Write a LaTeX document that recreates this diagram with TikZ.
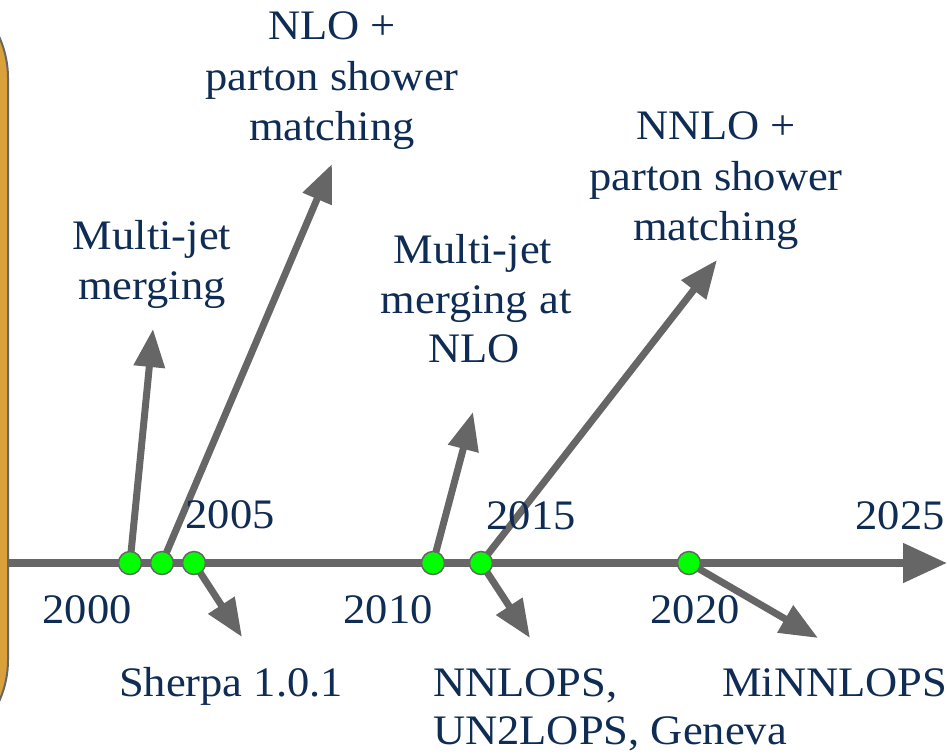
\documentclass[tikz,border=0pt]{standalone}
\usepackage{fontspec}
\setmainfont[FakeStretch=1.06]{Liberation Serif}
\usetikzlibrary{arrows.meta}
\definecolor{navy}{RGB}{14,44,84}
\definecolor{linegrey}{RGB}{102,102,102}
\definecolor{gold}{RGB}{218,160,58}
\definecolor{dotgreen}{RGB}{0,255,0}
\tikzset{
  lbl/.style={text=navy, font=\fontsize{42}{50}\selectfont, inner sep=0pt, anchor=base},
  lblleft/.style={lbl, anchor=base west},
  arrowline/.style={draw=linegrey, line width=7pt, -{Triangle[length=38pt,width=30pt]}},
  timeline/.style={draw=linegrey, line width=8pt, -{Triangle[length=44pt,width=38pt]}},
  dotnode/.style={circle, fill=dotgreen, draw=linegrey, line width=1.5pt, minimum size=23pt, inner sep=0pt},
  panelbox/.style={draw=linegrey, line width=2pt, fill=gold, rounded corners=100pt, minimum width=208pt, minimum height=782pt, inner sep=0pt}
}
\begin{document}
\begin{tikzpicture}[x=1pt,y=-1pt]
\clip (0,0) rectangle (947,753);
\node[panelbox] (panel) at (-96,369) {};
% dot positions
\coordinate (cA) at (130,563);
\coordinate (cB) at (162,563);
\coordinate (cC) at (194,563);
\coordinate (cD) at (433,563);
\coordinate (cE) at (481,563);
\coordinate (cF) at (689,563);
% tips
\coordinate (tA) at (153,329);
\coordinate (tB) at (332,164);
\coordinate (tC) at (242,637);
\coordinate (tD) at (473,412);
\coordinate (tE) at (717,260);
\coordinate (tF) at (530,638);
\coordinate (tG) at (818,638);
\coordinate (tlend) at (947,563);
% timeline
\draw[timeline] (panel.east |- cA) -- (tlend);
% arrows
\draw[arrowline] (cA) -- (tA);
\draw[arrowline] (cB) -- (tB);
\draw[arrowline] (cC) -- (tC);
\draw[arrowline] (cD) -- (tD);
\draw[arrowline] (cE) -- (tE);
\draw[arrowline] (cE) -- (tF);
\draw[arrowline] (cF) -- (tG);
% dots
\node[dotnode] (dA) at (cA) {};
\node[dotnode] (dB) at (cB) {};
\node[dotnode] (dC) at (cC) {};
\node[dotnode] (dD) at (cD) {};
\node[dotnode] (dE) at (cE) {};
\node[dotnode] (dF) at (cF) {};
% years
\node[lbl] (y2000) at (87,623) {2000};
\node[lbl] (y2005) at (230,528) {2005};
\node[lbl] (y2010) at (388,623) {2010};
\node[lbl] (y2015) at (531,529) {2015};
\node[lbl] (y2020) at (695,623) {2020};
\node[lbl] (y2025) at (900,529) {2025};
% upper labels
\node[lbl] (mj1) at (152,249) {Multi-jet};
\node[lbl] (mj2) at (152,299) {merging};
\node[lbl] (nlo1) at (332,39) {NLO +};
\node[lbl] (nlo2) at (332,90) {parton shower};
\node[lbl] (nlo3) at (332,140) {matching};
\node[lbl] (mjn1) at (473,263) {Multi-jet};
\node[lbl] (mjn2) at (476,313) {merging at};
\node[lbl] (mjn3) at (474,362) {NLO};
\node[lbl] (nnlo1) at (716,139) {NNLO +};
\node[lbl] (nnlo2) at (716,190) {parton shower};
\node[lbl] (nnlo3) at (716,240) {matching};
% lower labels
\node[lbl] (sherpa) at (231,696) {Sherpa 1.0.1};
\node[lblleft] (nnlops1) at (433,696) {NNLOPS,};
\node[lblleft] (nnlops2) at (433,744) {UN2LOPS, Geneva};
\node[lblleft] (minnlops) at (722,696) {MiNNLOPS};
\end{tikzpicture}
\end{document}
